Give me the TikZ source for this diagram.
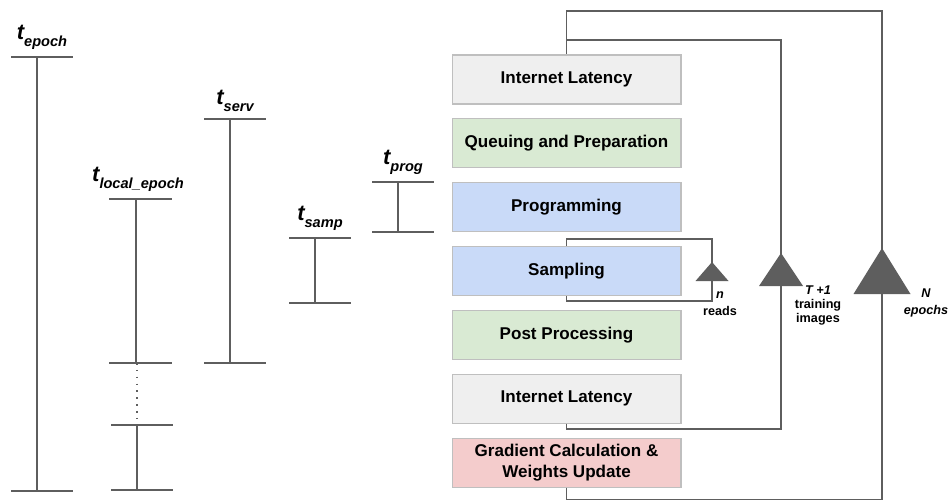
\documentclass[tikz,border=0pt]{standalone}
\usepackage{fontspec}
\setmainfont{Liberation Sans}
\usetikzlibrary{positioning}
\definecolor{linegray}{HTML}{5E5E5E}
\definecolor{latgray}{HTML}{EFEFEF}
\definecolor{stepgreen}{HTML}{D9EAD3}
\definecolor{stepblue}{HTML}{C9DAF8}
\definecolor{stepred}{HTML}{F4CCCC}
\newcommand\tsub[1]{{\fontsize{12.5}{12.5}\selectfont\bfseries\itshape t}\raisebox{-4pt}{\fontsize{8.3}{8.3}\selectfont\bfseries\itshape #1}}
\newcommand\looptri[4]{\fill[linegray](#1-#3,#2+#4)--(#1,#2)--(#1+#3,#2+#4)--cycle;}

\begin{document}
\begin{tikzpicture}[x=0.02cm,y=-0.02cm,
    bar/.style={linegray,line width=1.2pt},
    loopline/.style={linegray,line width=0.9pt},
    box/.style={draw=black!25,line width=0.6pt,minimum width=4.58cm,minimum height=0.98cm,
        align=center,font=\fontsize{9.7}{11.9}\selectfont\bfseries},
    lab/.style={font=\fontsize{7.2}{9.6}\selectfont\bfseries,align=center,inner sep=0pt},
    node distance=0.276cm]
    \useasboundingbox(0,0)rectangle(949,501);
    % time bars
    \foreach \x/\top/\bot/\name in {37/57/491/epoch,230/119/363/serv,315/238/303/samp,398/182/232/prog}{
        \draw[bar](\x-26,\top)--(\x+36,\top)(\x,\top)--(\x,\bot)(\x-26,\bot)--(\x+36,\bot);
        \node[above=0.5pt](t\name)at(\x+5,\top){\tsub{\name}};
    }
    \draw[bar](109,199)--(172,199)(136,199)--(136,363)(109,363)--(172,363);
    \draw[linegray,line width=0.9pt,dash pattern=on 0.9pt off 3pt](137,363)--(137,425);
    \draw[bar](111,425)--(173,425)(137,425)--(137,490)(111,490)--(173,490);
    \node[above=0.5pt](tlocal)at(138,199){\tsub{local\_epoch}};
    % pipeline
    \node[box,fill=latgray](lat1)at(566.5,79.5){Internet Latency};
    \node[box,fill=stepgreen,below=of lat1](queue){Queuing and Preparation};
    \node[box,fill=stepblue,below=of queue](prog){Programming};
    \node[box,fill=stepblue,below=of prog](samp){Sampling};
    \node[box,fill=stepgreen,below=of samp](post){Post Processing};
    \node[box,fill=latgray,below=of post](lat2){Internet Latency};
    \node[box,fill=stepred,below=of lat2](grad){Gradient Calculation \&\\Weights Update};
    % loops
    \coordinate(rtop)at(712,239);
    \coordinate(rbot)at(712,301);
    \draw[loopline](samp.north)|-(rtop)--(rbot)-|(samp.south);
    \looptri{712}{262}{16.5}{19}
    \node[lab,anchor=north](nreads)at(720,291){\textit{n}\\reads};
    \coordinate(ttop)at(781,40);
    \coordinate(tbot)at(781,429);
    \draw[loopline](lat2.south)|-(tbot)--(ttop)-|(lat1.north);
    \looptri{781}{253}{22}{33}
    \node[lab,anchor=north,font=\fontsize{7.2}{8.2}\selectfont\bfseries](tplus)at(818,285){\textit{T +1}\\training\\images};
    \coordinate(etop)at(882,11);
    \coordinate(ebot)at(882,499.5);
    \draw[loopline](grad.south)|-(ebot)--(etop)-|(lat1.north);
    \looptri{882}{248}{28.5}{46}
    \node[lab,anchor=north](nep)at(926,288.5){\textit{N}\\\textit{epochs}};
\end{tikzpicture}
\end{document}
